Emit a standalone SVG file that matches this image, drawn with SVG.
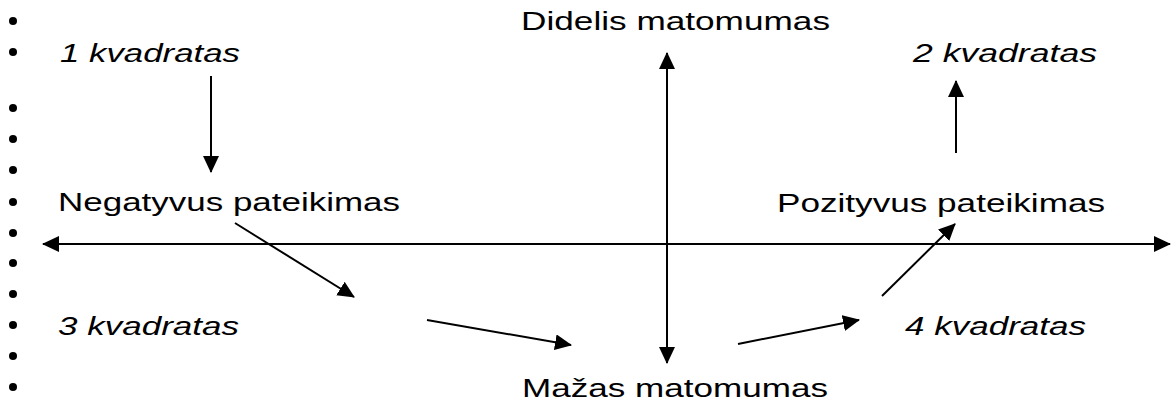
<svg xmlns="http://www.w3.org/2000/svg" width="1171" height="403" viewBox="0 0 1171 403">
<style>
.t{font-family:"Liberation Sans",Arial,sans-serif;font-size:26px;fill:#000}
.i{font-style:italic}
.c{stroke:#000;stroke-width:2;fill:none}
.b{fill:#000}
</style>
<defs>
<marker id="ah" markerUnits="userSpaceOnUse" markerWidth="17" markerHeight="16" refX="16" refY="8" orient="auto">
<path d="M0,0 L17,8 L0,16 z" fill="#000"/>
</marker>
</defs>
<rect width="1171" height="403" fill="#fff"/>
<g id="bullets">
<circle class="b" cx="13" cy="21" r="4"/>
<circle class="b" cx="13" cy="52" r="4"/>
<circle class="b" cx="13" cy="108" r="4"/>
<circle class="b" cx="13" cy="139" r="4"/>
<circle class="b" cx="13" cy="170" r="4"/>
<circle class="b" cx="13" cy="202" r="4"/>
<circle class="b" cx="13" cy="233" r="4"/>
<circle class="b" cx="13" cy="263" r="4"/>
<circle class="b" cx="13" cy="294" r="4"/>
<circle class="b" cx="13" cy="325" r="4"/>
<circle class="b" cx="13" cy="356" r="4"/>
<circle class="b" cx="13" cy="387" r="4"/>
</g>
<g id="connectors">
<line class="c" x1="667" y1="244" x2="667" y2="53" marker-end="url(#ah)"/>
<line class="c" x1="667" y1="244" x2="667" y2="363" marker-end="url(#ah)"/>
<line class="c" x1="605" y1="244" x2="43" y2="244" marker-end="url(#ah)"/>
<line class="c" x1="605" y1="244" x2="1170" y2="244" marker-end="url(#ah)"/>
<line class="c" x1="211" y1="76" x2="211" y2="172" marker-end="url(#ah)"/>
<line class="c" x1="956" y1="153" x2="956" y2="81" marker-end="url(#ah)"/>
<line class="c" x1="235" y1="223" x2="354" y2="297" marker-end="url(#ah)"/>
<line class="c" x1="427" y1="320" x2="571" y2="345" marker-end="url(#ah)"/>
<line class="c" x1="738" y1="344" x2="859" y2="320" marker-end="url(#ah)"/>
<line class="c" x1="882" y1="296" x2="955" y2="224" marker-end="url(#ah)"/>
</g>
<g id="didelis"><text class="t" x="521" y="30" textLength="309" lengthAdjust="spacingAndGlyphs">Didelis matomumas</text></g>
<g id="mazas"><text class="t" x="522" y="397" textLength="306" lengthAdjust="spacingAndGlyphs">Mažas matomumas</text></g>
<g id="kv1"><text class="t i" x="60" y="62" textLength="180" lengthAdjust="spacingAndGlyphs">1 kvadratas</text></g>
<g id="kv2"><text class="t i" x="913" y="62" textLength="184" lengthAdjust="spacingAndGlyphs">2 kvadratas</text></g>
<g id="kv3"><text class="t i" x="58" y="335" textLength="181" lengthAdjust="spacingAndGlyphs">3 kvadratas</text></g>
<g id="kv4"><text class="t i" x="905" y="335" textLength="181" lengthAdjust="spacingAndGlyphs">4 kvadratas</text></g>
<g id="negatyvus"><text class="t" x="58" y="211" textLength="342" lengthAdjust="spacingAndGlyphs">Negatyvus pateikimas</text></g>
<g id="pozityvus"><text class="t" x="777" y="212" textLength="328" lengthAdjust="spacingAndGlyphs">Pozityvus pateikimas</text></g>
</svg>
